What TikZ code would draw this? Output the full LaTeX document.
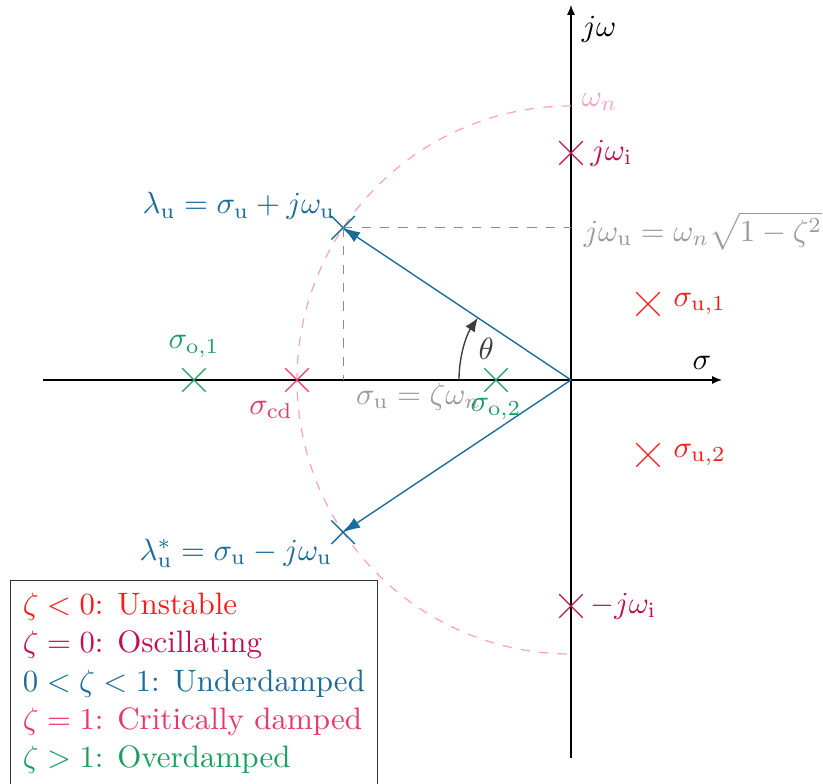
\documentclass[tikz,border=0pt]{standalone}
\usepackage{xcolor}
\usepackage{tikz}
\usetikzlibrary{positioning,arrows.meta,shapes.misc}
\definecolor{unstab}{HTML}{FF1A1A}
\definecolor{oscil}{HTML}{BE1150}
\definecolor{under}{HTML}{1B6C99}
\definecolor{crit}{HTML}{E8386A}
\definecolor{over}{HTML}{1A9E60}
\definecolor{circ}{HTML}{F5A3C3}
\definecolor{guide}{HTML}{8C8C8C}
\definecolor{guideLt}{HTML}{9B9B9B}
\definecolor{arcDk}{HTML}{3C3C3C}

\begin{document}
\begin{tikzpicture}[x=0.3257pt, y=0.3257pt,
    pole/.style={draw, cross out, minimum size=7.2pt, inner sep=0pt, line width=0.45pt},
    axis/.style={line width=0.45pt, -{Latex[length=3.2pt,width=2.6pt]}},
    mode/.style={under, line width=0.45pt, -{Latex[length=5.5pt,width=3.8pt]}},
    guideline/.style={guide, dashed, line width=0.4pt}]
  \useasboundingbox (-571,-404) rectangle (252,380);

  % axes
  \coordinate (O) at (0,0);
  \coordinate (xs) at (-528,0);
  \coordinate (xe) at (151,0);
  \coordinate (ys) at (0,-378);
  \coordinate (ye) at (0,375);
  \draw[axis] (xs) -- (xe);
  \draw[axis] (ys) -- (ye);
  \node[anchor=south east] (sig) at (xe) {$\sigma$};
  \node[anchor=north west] (jw) at (ye) {$j\omega$};

  % natural frequency circle
  \draw[circ, dashed, line width=0.4pt] (0,274) arc[start angle=90, end angle=270, radius=274];
  \node[circ, anchor=west] (wn) at (0,278) {$\omega_n$};

  % poles
  \node[pole, under] (lu) at (146.25:274) {};
  \node[pole, under] (luc) at (-146.25:274) {};
  \node[pole, oscil] (ji) at (0,227) {};
  \node[pole, oscil] (mji) at (0,-226) {};
  \node[pole, unstab] (su1) at (77,76) {};
  \node[pole, unstab] (su2) at (77,-75) {};
  \node[pole, over] (so1) at (-377,0) {};
  \node[pole, over] (so2) at (-75,0) {};
  \node[pole, crit] (scd) at (-274,0) {};

  % projections of the underdamped pole
  \coordinate (su) at (lu.center |- O);
  \coordinate (wu) at (lu.center -| O);
  \draw[guideline] (lu.center) -- (su);
  \draw[guideline] (lu.center) -- (wu);
  \draw[mode] (O) -- (lu.center);
  \draw[mode] (O) -- (luc.center);

  % angle
  \draw[arcDk, line width=0.45pt, -{Latex[length=4.5pt,width=3.6pt]}]
    (180:112) arc[start angle=180, end angle=146.25, radius=112];
  \node[arcDk, anchor=west] (th) at (163:108) {$\theta$};

  % labels
  \node[under, anchor=south east] (lul) at ([shift={(3,-3)}]lu.center) {$\lambda_\mathrm{u}=\sigma_\mathrm{u}+j\omega_\mathrm{u}$};
  \node[under, anchor=north east] (lucl) at ([shift={(0,4)}]luc.center) {$\lambda_\mathrm{u}^*=\sigma_\mathrm{u}-j\omega_\mathrm{u}$};
  \node[guideLt, anchor=west] (wul) at ([shift={(2,-3)}]wu) {$j\omega_\mathrm{u}=\omega_n\sqrt{1-\zeta^2}$};
  \node[guideLt, anchor=north west] (sul) at ([shift={(2,8)}]su) {$\sigma_\mathrm{u}=\zeta\omega_n$};
  \node[oscil, right=-1pt of ji] (jil) {$j\omega_\mathrm{i}$};
  \node[oscil, right=-1pt of mji] (mjil) {$-j\omega_\mathrm{i}$};
  \node[unstab, right=1pt of su1] (su1l) {$\sigma_\mathrm{u,1}$};
  \node[unstab, right=1pt of su2] (su2l) {$\sigma_\mathrm{u,2}$};
  \node[over, above=0pt of so1] (so1l) {$\sigma_\mathrm{o,1}$};
  \node[over, below=-1.5pt of so2] (so2l) {$\sigma_\mathrm{o,2}$};
  \node[crit, below left=-0.5pt and -6pt of scd] (scdl) {$\sigma_\mathrm{cd}$};

  % legend
  \node[draw=black!80, line width=0.45pt, align=left, anchor=north west, inner sep=4pt,
        font=\fontsize{10.1pt}{12.5pt}\selectfont] (key) at (-561,-200) {%
    \color{unstab}$\zeta<0$: Unstable\\
    \color{oscil}$\zeta=0$: Oscillating\\
    \color{under}$0<\zeta<1$: Underdamped\\
    \color{crit}$\zeta=1$: Critically damped\\
    \color{over}$\zeta>1$: Overdamped};
\end{tikzpicture}
\end{document}
